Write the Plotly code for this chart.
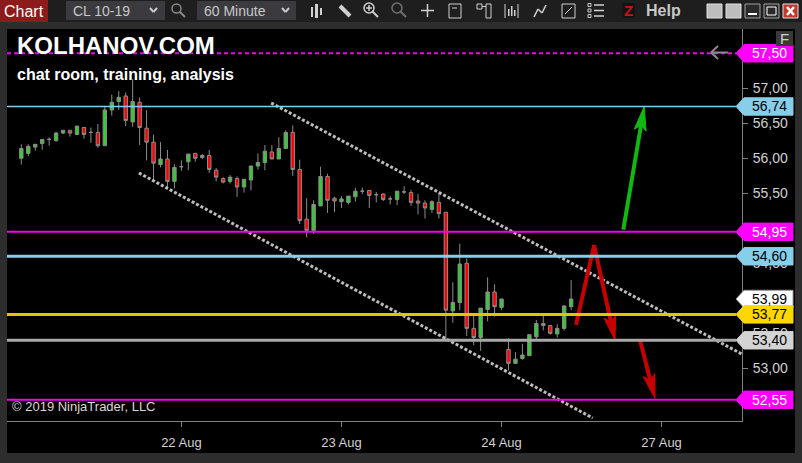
import plotly.graph_objects as go

# CL 10-19, 60 minute candles (oldest first)
opens = [56.00, 56.07, 56.16, 56.21, 56.27, 56.25, 56.36, 56.40, 56.34, 56.44,
         56.37, 56.37, 56.18, 56.69, 56.81, 56.89, 56.52, 56.80, 56.43, 56.23,
         55.91, 55.99, 55.67, 55.88, 55.95, 56.07, 56.01, 56.04, 55.83, 55.71,
         55.67, 55.71, 55.59, 55.69, 55.89, 55.94, 56.09, 55.99, 56.14, 56.37,
         55.84, 55.13, 54.97, 55.32, 55.74, 55.43, 55.38, 55.37, 55.45, 55.53,
         55.54, 55.48, 55.49, 55.42, 55.41, 55.52, 55.51, 55.39, 55.36, 55.27,
         55.37, 55.23, 53.82, 53.94, 54.50, 53.57, 53.44, 53.84, 54.09, 53.87,
         53.27, 53.07, 53.14, 53.18, 53.45, 53.64, 53.61, 53.49, 53.57, 53.88]
highs = [56.20, 56.20, 56.20, 56.27, 56.30, 56.38, 56.40, 56.40, 56.46, 56.44,
         56.44, 56.49, 56.75, 56.91, 56.96, 56.94, 57.13, 56.87, 56.69, 56.34,
         56.23, 56.12, 55.92, 55.97, 56.06, 56.07, 56.06, 56.12, 55.86, 55.73,
         55.76, 55.74, 55.70, 55.89, 56.07, 56.19, 56.19, 56.30, 56.40, 56.47,
         55.98, 55.43, 55.40, 55.88, 55.78, 55.45, 55.46, 55.46, 55.58, 55.58,
         55.54, 55.52, 55.50, 55.46, 55.53, 55.60, 55.55, 55.49, 55.40, 55.40,
         55.50, 55.23, 54.23, 54.78, 54.57, 53.79, 53.86, 54.30, 54.20, 53.99,
         53.43, 53.23, 53.35, 53.48, 53.69, 53.75, 53.61, 53.63, 53.90, 54.26]
lows = [55.91, 56.03, 56.11, 56.12, 56.18, 56.24, 56.35, 56.31, 56.34, 56.28,
        56.22, 56.15, 56.18, 56.61, 56.69, 56.46, 56.45, 56.19, 55.97, 55.69,
        55.87, 55.59, 55.57, 55.82, 55.83, 55.95, 55.99, 55.79, 55.67, 55.64,
        55.64, 55.45, 55.51, 55.54, 55.84, 55.83, 55.99, 55.99, 56.14, 55.75,
        55.06, 54.87, 54.92, 55.32, 55.22, 55.23, 55.29, 55.34, 55.38, 55.49,
        55.29, 55.37, 55.39, 55.34, 55.33, 55.49, 55.32, 55.20, 55.14, 55.22,
        55.14, 53.40, 53.65, 53.83, 53.46, 53.33, 53.25, 53.67, 53.74, 53.83,
        52.97, 53.07, 53.12, 53.18, 53.40, 53.54, 53.48, 53.44, 53.54, 53.83]
closes = [56.14, 56.17, 56.20, 56.27, 56.27, 56.36, 56.40, 56.36, 56.46, 56.34,
          56.37, 56.18, 56.69, 56.80, 56.87, 56.54, 56.81, 56.44, 56.23, 55.93,
          55.99, 55.67, 55.87, 55.88, 56.06, 56.00, 56.04, 55.84, 55.73, 55.66,
          55.73, 55.59, 55.70, 55.89, 55.94, 56.10, 55.99, 56.14, 56.37, 55.84,
          55.11, 54.97, 55.34, 55.74, 55.40, 55.39, 55.42, 55.46, 55.53, 55.53,
          55.47, 55.48, 55.41, 55.42, 55.53, 55.52, 55.37, 55.36, 55.29, 55.38,
          55.21, 53.83, 53.94, 54.49, 53.57, 53.44, 53.86, 54.09, 53.88, 53.99,
          53.07, 53.13, 53.19, 53.48, 53.64, 53.61, 53.50, 53.57, 53.89, 53.99]
bars = list(range(len(opens)))

# date labels sit on the first bar of each session
day_bars = [23, 46, 69, 92]
day_labels = ["22 Aug", "23 Aug", "24 Aug", "27 Aug"]

# price ticks that are not hidden behind a flag
price_ticks = [53.0, 53.5, 54.5, 55.5, 56.0, 56.5, 57.0]

# horizontal levels
level_prices = [57.50, 56.74, 54.95, 54.60, 53.77, 53.40, 52.55]
level_colors = ["#f000f0", "#87ceeb", "#f000f0", "#87ceeb", "#e6c200", "#a8a8a8", "#f000f0"]
level_widths = [2, 1.5, 2, 3, 3, 3, 2]
level_dash = ["4px,3px", "solid", "solid", "solid", "solid", "solid", "solid"]

# price flags on the right: price, fill, text colour
flag_prices = [57.50, 56.74, 54.95, 54.60, 53.99, 53.77, 53.40, 52.55]
flag_fills = ["#ff00ff", "#87ceeb", "#ff00ff", "#87ceeb", "#ffffff", "#ffd700", "#d3d3d3", "#ff00ff"]
flag_text = ["#ffffff", "#000000", "#ffffff", "#000000", "#000000", "#000000", "#000000", "#ffffff"]

# hand drawn channel (bar, price)
upper_x, upper_y = [35.9, 103.6], [56.79, 53.20]
lower_x, lower_y = [16.9, 82.1], [55.79, 52.29]

# hand drawn arrows (bar, price), last point is the tip
green_x, green_y = [86.5, 89.5], [54.98, 56.74]
red1_x, red1_y = [79.7, 82.3, 85.3], [53.62, 54.76, 53.40]
red2_x, red2_y = [88.9, 91.05], [53.40, 52.57]

# screen geometry
W, H = 802, 463
L, R, T, B = 7, 742, 29, 421
x_range = [-2.055, 103.55]
y_range = [52.247, 57.847]
kx = (R - L) / (x_range[1] - x_range[0])
ky = (B - T) / (y_range[1] - y_range[0])
FONT = "Liberation Sans, Arial, sans-serif"


def px(x):
    return (x - L) / (R - L)


def py(y):
    return (B - y) / (B - T)


def arrow_head(xs, ys, length=24, half=6, notch=5):
    # build the head in screen pixels so it keeps its shape
    ax, ay = (xs[-2] - x_range[0]) * kx, (y_range[1] - ys[-2]) * ky
    bx, by = (xs[-1] - x_range[0]) * kx, (y_range[1] - ys[-1]) * ky
    d = ((bx - ax) ** 2 + (by - ay) ** 2) ** 0.5
    ux, uy = (bx - ax) / d, (by - ay) / d
    nx, ny = -uy, ux
    pts = [(bx, by),
           (bx - length * ux + half * nx, by - length * uy + half * ny),
           (bx - (length - notch) * ux, by - (length - notch) * uy),
           (bx - length * ux - half * nx, by - length * uy - half * ny),
           (bx, by)]
    back = [(x_range[0] + p[0] / kx, y_range[1] - p[1] / ky) for p in pts]
    hx = [p[0] for p in back]
    hy = [p[1] for p in back]
    return hx, hy, back[2]


fig = go.Figure()

fig.add_trace(go.Candlestick(
    x=bars, open=opens, high=highs, low=lows, close=closes,
    increasing=dict(fillcolor="#33cc33", line=dict(color="#8c8c8c", width=1)),
    decreasing=dict(fillcolor="#ff0000", line=dict(color="#8c8c8c", width=1)),
    whiskerwidth=0, showlegend=False, hoverinfo="skip"))

for xs, ys in [(upper_x, upper_y), (lower_x, lower_y)]:
    fig.add_trace(go.Scatter(x=xs, y=ys, mode="lines", showlegend=False, hoverinfo="skip",
                             line=dict(color="#bdbdbd", width=3, dash="3px,2px")))

for xs, ys, col in [(green_x, green_y, "#12b812"), (red1_x, red1_y, "#c80000"),
                    (red2_x, red2_y, "#c80000")]:
    hx, hy, stem = arrow_head(xs, ys)
    fig.add_trace(go.Scatter(x=xs[:-1] + [stem[0]], y=ys[:-1] + [stem[1]], mode="lines",
                             showlegend=False, hoverinfo="skip",
                             line=dict(color=col, width=4)))
    fig.add_trace(go.Scatter(x=hx, y=hy, mode="lines", fill="toself", fillcolor=col,
                             showlegend=False, hoverinfo="skip",
                             line=dict(color=col, width=1)))

shapes = []
annos = []


def rect(x0, y0, x1, y1, fill, line=None, layer="above"):
    shapes.append(dict(type="rect", xref="paper", yref="paper", layer=layer,
                       x0=px(x0), x1=px(x1), y0=py(y0), y1=py(y1), fillcolor=fill,
                       line=dict(width=1 if line else 0, color=line or fill)))


def seg(x0, y0, x1, y1, color, width=1.5):
    shapes.append(dict(type="line", xref="paper", yref="paper",
                       x0=px(x0), x1=px(x1), y0=py(y0), y1=py(y1),
                       line=dict(color=color, width=width)))


def ring(x0, y0, x1, y1, color, width=1.5):
    shapes.append(dict(type="circle", xref="paper", yref="paper",
                       x0=px(x0), x1=px(x1), y0=py(y0), y1=py(y1),
                       line=dict(color=color, width=width)))


def text(x, y, s, size, color, anchor="left"):
    annos.append(dict(xref="paper", yref="paper", x=px(x), y=py(y), text=s,
                      showarrow=False, xanchor=anchor, yanchor="middle",
                      font=dict(family=FONT, size=size, color=color)))


# chart panel
rect(7, 29, 795, 453, "#000000", layer="below")

# toolbar
rect(0, 0, 802, 22, "#1e1e1e")
rect(0, 0, 48, 22, "#8e1b1b")
text(24, 11, "Chart", 16, "#ffffff", "center")
rect(66, 1, 165, 20, "#3a3a3f")
text(71, 10.5, "CL 10-19", 14, "#c8c8c8")
seg(150, 8, 153.5, 12, "#c8c8c8", 2)
seg(153.5, 12, 157, 8, "#c8c8c8", 2)
ring(172, 4, 181, 13, "#8a8a8a")
seg(180, 12, 185, 17, "#8a8a8a", 2)
rect(197, 1, 296, 20, "#3a3a3f")
text(202, 10.5, "60 Minute", 14, "#c8c8c8")
seg(282, 8, 285.5, 12, "#c8c8c8", 2)
seg(285.5, 12, 289, 8, "#c8c8c8", 2)
ic = "#d0d0d0"
rect(311, 7, 313, 17, ic)
rect(315, 4, 318, 18, ic)
rect(320, 8, 322, 15, ic)
seg(340, 6, 350, 16, ic, 4)
ring(364, 3, 374, 13, ic)
seg(372, 11, 378, 17, ic, 2)
seg(366, 8, 372, 8, ic)
seg(369, 5, 369, 11, ic)
ring(392, 3, 402, 13, "#707070")
seg(400, 11, 406, 17, "#707070", 2)
seg(421, 10.5, 434, 10.5, ic)
seg(427.5, 4, 427.5, 17, ic)
rect(449, 4, 461, 18, "rgba(0,0,0,0)", ic)
seg(452, 8, 457, 8, ic, 1)
rect(477, 4, 482, 9, "rgba(0,0,0,0)", ic)
seg(482, 6.5, 486, 6.5, ic, 1)
rect(486, 4, 491, 18, "rgba(0,0,0,0)", ic)
seg(505, 4, 505, 18, ic, 1)
seg(518, 4, 518, 18, ic, 1)
rect(508, 9, 509.5, 16, ic)
rect(511, 6, 512.5, 16, ic)
rect(514, 10, 515.5, 16, ic)
seg(534, 17, 538, 9, ic)
seg(538, 9, 542, 13, ic)
seg(542, 13, 546, 5, ic)
rect(562, 4, 575, 18, "rgba(0,0,0,0)", ic)
seg(565, 14, 572, 7, ic, 1)
for yy in [5, 10.5, 16]:
    rect(588, yy - 1.5, 591, yy + 1.5, "rgba(0,0,0,0)", ic)
    seg(594, yy, 604, yy, ic)
rect(622, 3, 635, 18, "#141414")
text(628.5, 10.5, "<b>Z</b>", 15, "#d01010", "center")
text(644, 10.5, "<b>Help</b>", 16, "#c8c8c8")
rect(707, 4, 722, 18, "#bdbdbd", "#e0e0e0")
rect(726, 4, 741, 18, "#bdbdbd", "#e0e0e0")
rect(745, 4, 760, 18, "#2a2a2a", "#a0a0a0")
seg(748, 14, 757, 14, "#ffffff", 2)
rect(764, 4, 779, 18, "#2a2a2a", "#a0a0a0")
rect(767, 7, 776, 15, "rgba(0,0,0,0)", "#ffffff")
rect(783, 4, 798, 18, "#c0392b", "#e0e0e0")
seg(787, 7, 794, 15, "#ffffff", 2.5)
seg(787, 15, 794, 7, "#ffffff", 2.5)

# level lines
for p, c, w, d in zip(level_prices, level_colors, level_widths, level_dash):
    shapes.append(dict(type="line", xref="paper", yref="y", x0=0, x1=px(736), y0=p, y1=p,
                       layer="above", line=dict(color=c, width=w, dash=d)))

# little back arrow on the top level
seg(711, 52.5, 728, 52.5, "#8a8a8a", 2)
seg(711, 52.5, 718, 46, "#8a8a8a", 2)
seg(711, 52.5, 718, 59, "#8a8a8a", 2)

# price flags
hh = 8.7 / ky
for p, f, tc in zip(flag_prices, flag_fills, flag_text):
    path = (f"M {px(736)},{p} L {px(744)},{p + hh} L {px(793)},{p + hh} "
            f"L {px(793)},{p - hh} L {px(744)},{p - hh} Z")
    shapes.append(dict(type="path", xref="paper", yref="y", path=path, fillcolor=f,
                       layer="above", line=dict(color="#9a9a9a" if f == "#ffffff" else f, width=1)))
    annos.append(dict(xref="paper", yref="y", x=px(769), y=p, text=f"{p:.2f}".replace(".", ","),
                      showarrow=False, xanchor="center", yanchor="middle",
                      font=dict(family=FONT, size=14, color=tc)))

# "F" button sits on top of the first flag
rect(776, 31, 793, 46, "#3a3a3a")
text(784.5, 38.5, "F", 15, "#d0d0d0", "center")

# overlay texts
text(15, 45, "<b>KOLHANOV.COM</b>", 24, "#ffffff")
text(15, 74.5, "<b>chat room, training, analysis</b>", 16, "#ffffff")
text(10, 406, "© 2019 NinjaTrader, LLC", 13, "#d8d8d8")

fig.update_layout(
    width=W, height=H,
    margin=dict(l=L, r=W - R, t=T, b=H - B, pad=0),
    paper_bgcolor="#2d2d2d", plot_bgcolor="#000000",
    separators=", ",
    font=dict(family=FONT, color="#d0d0d0"),
    shapes=shapes, annotations=annos,
    showlegend=False,
    xaxis=dict(range=x_range, rangeslider=dict(visible=False), showgrid=False, zeroline=False,
               tickvals=day_bars, ticktext=day_labels, ticks="outside", ticklen=5,
               tickcolor="#808080", showline=True, linecolor="#808080", linewidth=1,
               tickfont=dict(size=13, color="#d0d0d0"), ticklabelstandoff=4,
               fixedrange=True),
    yaxis=dict(range=y_range, side="right", showgrid=False, zeroline=False,
               tickvals=price_ticks, tickformat=".2f", ticks="outside", ticklen=5,
               tickcolor="#808080", showline=True, linecolor="#808080", linewidth=1,
               tickfont=dict(size=14, color="#d0d0d0"), ticklabelstandoff=2,
               fixedrange=True),
)

# the page's default body margin would push the figure off the window
fig.write_html("out.html", config=dict(displayModeBar=False),
               post_script="document.body.style.margin='0';document.body.style.padding='0';")
